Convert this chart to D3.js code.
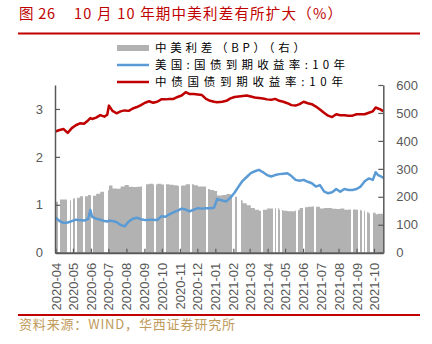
<!DOCTYPE html>
<html><head><meta charset="utf-8">
<script src="https://cdn.jsdelivr.net/npm/d3@7/dist/d3.min.js"></script>
<style>
html,body{margin:0;padding:0;background:#fff;}
svg{display:block;}
</style></head>
<body>
<svg id="chart" width="432" height="344"></svg>
<script>
// ---- data ----
const dates = ["2020-04-01","2020-04-08","2020-04-15","2020-04-22","2020-04-29","2020-05-06","2020-05-13","2020-05-20","2020-05-27","2020-05-31","2020-06-03","2020-06-10","2020-06-17","2020-06-24","2020-06-29","2020-07-02","2020-07-08","2020-07-15","2020-07-22","2020-07-29","2020-08-05","2020-08-12","2020-08-19","2020-08-26","2020-09-02","2020-09-09","2020-09-16","2020-09-23","2020-09-30","2020-10-07","2020-10-14","2020-10-21","2020-10-28","2020-11-04","2020-11-11","2020-11-18","2020-11-25","2020-12-02","2020-12-09","2020-12-16","2020-12-23","2020-12-30","2021-01-04","2021-01-13","2021-01-20","2021-01-27","2021-02-03","2021-02-10","2021-02-17","2021-02-24","2021-03-03","2021-03-10","2021-03-17","2021-03-24","2021-03-31","2021-04-07","2021-04-14","2021-04-21","2021-04-28","2021-05-05","2021-05-12","2021-05-19","2021-05-26","2021-06-02","2021-06-09","2021-06-16","2021-06-23","2021-06-30","2021-07-07","2021-07-14","2021-07-21","2021-07-28","2021-08-04","2021-08-11","2021-08-18","2021-08-25","2021-09-01","2021-09-08","2021-09-15","2021-09-22","2021-09-29","2021-10-06","2021-10-13","2021-10-20","2021-10-27","2021-10-29"];
const cnYield = [2.53,2.56,2.58,2.50,2.60,2.66,2.70,2.69,2.76,2.81,2.79,2.82,2.87,2.84,2.88,3.07,2.96,2.91,2.95,2.97,2.96,3.01,3.04,3.08,3.13,3.16,3.13,3.15,3.20,3.20,3.21,3.21,3.25,3.28,3.35,3.31,3.31,3.30,3.29,3.21,3.17,3.15,3.14,3.15,3.17,3.22,3.25,3.26,3.27,3.28,3.26,3.24,3.23,3.22,3.20,3.19,3.21,3.17,3.15,3.12,3.08,3.07,3.10,3.15,3.12,3.10,3.05,2.99,2.92,2.86,2.83,2.89,2.87,2.87,2.86,2.86,2.89,2.89,2.89,2.92,2.95,3.03,3.01,2.99,2.96,2.95];
const usYield = [0.73,0.66,0.62,0.63,0.66,0.69,0.68,0.67,0.70,0.89,0.75,0.71,0.69,0.66,0.65,0.67,0.66,0.64,0.58,0.55,0.65,0.71,0.73,0.70,0.68,0.69,0.69,0.68,0.76,0.75,0.80,0.84,0.88,0.92,0.90,0.86,0.90,0.93,0.92,0.93,0.93,0.94,1.12,1.09,1.07,1.15,1.25,1.38,1.50,1.58,1.66,1.70,1.73,1.68,1.62,1.59,1.62,1.64,1.65,1.66,1.60,1.52,1.50,1.52,1.48,1.45,1.38,1.41,1.28,1.24,1.26,1.33,1.27,1.33,1.31,1.31,1.33,1.38,1.49,1.55,1.52,1.68,1.62,1.60,1.57,1.58];
const spreadBp = [182,190,190,187,194,197,202,202,206,205,204,211,218,218,223,240,230,229,237,242,236,235,236,238,245,247,244,247,244,245,243,241,239,240,245,245,241,237,237,228,224,221,205,206,210,207,200,188,177,170,160,154,150,154,158,158,159,153,150,148,148,153,160,163,164,165,164,158,160,160,157,156,158,154,155,155,154,151,145,140,143,138,139,139,139,137];
const gapDates = ["2020-04-06","2020-04-20","2020-04-22","2020-04-27","2020-05-05","2020-05-18","2020-06-01","2020-06-24","2020-06-27","2020-08-27","2020-08-31","2020-09-18","2020-10-04","2020-10-31","2020-11-19","2020-12-16","2021-01-29","2021-01-31","2021-02-07","2021-02-10","2021-03-20","2021-04-11","2021-04-15","2021-04-23","2021-05-19","2021-05-31","2021-06-20","2021-08-23","2021-09-04","2021-09-10","2021-09-15","2021-09-24","2021-09-26"];
const leftTicks = [0,1,2,3];
const rightTicks = [0,100,200,300,400,500,600];
const legendLabels = ["中美利差（BP）（右）","美国:国债到期收益率:10年","中债国债到期收益率:10年"];
const titleNo = "图 26";
const titleText = "10 月 10 年期中美利差有所扩大（%）";
const sourceText = "资料来源：WIND，华西证券研究所";

// ---- drawing ----
const parse = d3.timeParse("%Y-%m-%d");
const D = dates.map(parse);
const svg = d3.select("#chart");
const L = 55, R = 383.3, T = 85, B = 252.7;
const red = "#c00000", blue = "#5b9bd5", gray = "#b2b2b2", axisCol = "#595959";

const x = d3.scaleTime()
  .domain([parse("2020-04-01"), parse("2021-10-01"), parse("2021-10-29")])
  .range([L + 0.5, 374, R]);
const yL = d3.scaleLinear().domain([0, 3.5]).range([B, T]);
const yR = d3.scaleLinear().domain([0, 600]).range([B, T]);

// title
svg.append("text").attr("x", 19).attr("y", 19).attr("fill", red)
  .attr("font-family", "Noto Sans CJK SC").attr("font-size", 14.5)
  .attr("textLength", 36).attr("lengthAdjust", "spacing").text(titleNo);
svg.append("text").attr("x", 74).attr("y", 19).attr("fill", red)
  .attr("font-family", "Noto Sans CJK SC").attr("font-size", 14.5)
  .attr("textLength", 268).attr("lengthAdjust", "spacing").text(titleText);
svg.append("line").attr("x1", 18).attr("x2", 420).attr("y1", 33.5).attr("y2", 33.5)
  .attr("stroke", red).attr("stroke-width", 2);

// spread area
const area = d3.area().x((d, i) => x(D[i])).y0(B).y1(d => yR(d)).curve(d3.curveStepAfter);
svg.append("path").datum(spreadBp).attr("d", area).attr("fill", gray);
// missing spread days
svg.selectAll("rect.gap").data(gapDates).enter().append("rect")
  .attr("x", d => Math.round(x(parse(d)))).attr("width", 2)
  .attr("y", T).attr("height", B - T).attr("fill", "#fff");

// lines
const lineL = d3.line().x((d, i) => x(D[i])).y(d => yL(d));
svg.append("path").datum(usYield).attr("d", lineL).attr("fill", "none")
  .attr("stroke", blue).attr("stroke-width", 2.5).attr("stroke-linejoin", "round");
svg.append("path").datum(cnYield).attr("d", lineL).attr("fill", "none")
  .attr("stroke", red).attr("stroke-width", 2.5).attr("stroke-linejoin", "round");

// axes
function styleAxis(g) {
  g.selectAll(".domain").attr("stroke", axisCol).attr("stroke-width", 1.5);
  g.selectAll(".tick line").attr("stroke", axisCol).attr("stroke-width", 1.2);
  g.selectAll(".tick text").attr("fill", axisCol)
    .attr("font-family", "Liberation Sans, Arial, sans-serif").attr("font-size", 13);
}
const gl = svg.append("g").attr("transform", `translate(${L},0)`)
  .call(d3.axisLeft(yL).tickValues(leftTicks).tickSizeInner(-5).tickSizeOuter(0).tickPadding(12).tickFormat(d3.format("d")));
styleAxis(gl);
const gr = svg.append("g").attr("transform", `translate(${R},0)`)
  .call(d3.axisRight(yR).tickValues(rightTicks).tickSizeInner(-5).tickSizeOuter(0).tickPadding(13));
styleAxis(gr);
const months = d3.timeMonth.range(parse("2020-04-01"), parse("2021-10-02"));
const gb = svg.append("g").attr("transform", `translate(0,${B})`)
  .call(d3.axisBottom(x).tickValues(months).tickSizeInner(-4).tickSizeOuter(0).tickFormat(d3.timeFormat("%Y-%m")));
styleAxis(gb);
gb.selectAll(".domain").attr("stroke-width", 2);
gb.selectAll(".tick text")
  .attr("transform", "translate(0,10) rotate(-90)")
  .attr("text-anchor", "end").attr("x", 0).attr("y", 0).attr("dy", "0.35em");

// legend
const legY = [48, 65, 82];
const legLen = [150, 190, 188];
svg.append("rect").attr("x", 117).attr("y", legY[0] - 3).attr("width", 32).attr("height", 6).attr("fill", gray);
svg.append("line").attr("x1", 117).attr("x2", 149).attr("y1", legY[1]).attr("y2", legY[1]).attr("stroke", blue).attr("stroke-width", 2.5);
svg.append("line").attr("x1", 117).attr("x2", 149).attr("y1", legY[2]).attr("y2", legY[2]).attr("stroke", red).attr("stroke-width", 2.5);
legendLabels.forEach((t, i) => {
  svg.append("text").attr("x", 155).attr("y", legY[i]).attr("dy", "0.36em")
    .attr("font-family", "Noto Sans CJK SC").attr("font-size", 11.5).attr("fill", "#000")
    .attr("textLength", legLen[i]).attr("lengthAdjust", "spacing").text(t);
});

// source
svg.append("line").attr("x1", 18).attr("x2", 420).attr("y1", 315).attr("y2", 315)
  .attr("stroke", red).attr("stroke-width", 2);
svg.append("text").attr("x", 19).attr("y", 329).attr("fill", "#bf9a5a")
  .attr("font-family", "Noto Sans CJK SC").attr("font-size", 13)
  .attr("textLength", 216).attr("lengthAdjust", "spacing").text(sourceText);
</script>
</body></html>
